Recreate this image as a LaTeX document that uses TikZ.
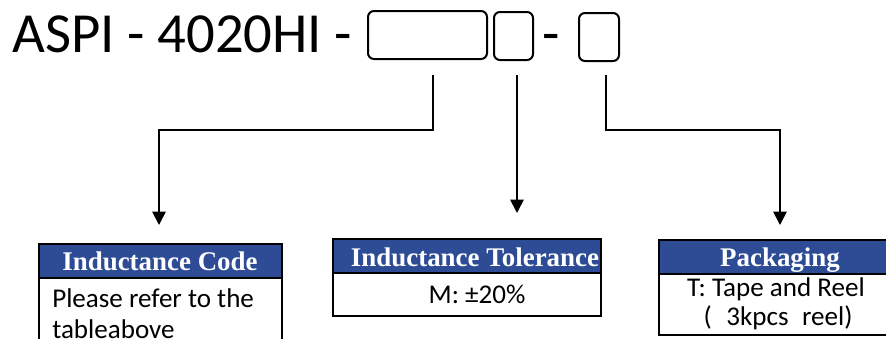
\documentclass[tikz,border=0pt]{standalone}
\usepackage{fontspec}
\setmainfont{Carlito}
\newfontfamily\hdrfont{Liberation Serif}
\usetikzlibrary{arrows.meta}
\definecolor{hdrblue}{RGB}{46,76,150}
\begin{document}
\begin{tikzpicture}[x=0.75pt,y=-0.75pt,
  slot/.style={draw,line width=1.5pt,rounded corners=4.5pt,inner sep=0,anchor=center},
  conn/.style={line width=1.3pt,-{Triangle[width=10pt,length=10pt]}},
  hdr/.style={draw,line width=1.5pt,fill=hdrblue,inner sep=0,anchor=north west},
  bodybox/.style={draw,line width=1.5pt,fill=white,inner sep=0,anchor=north west},
  hdrtext/.style={text=white,font=\hdrfont\bfseries\fontsize{20.2pt}{23pt}\selectfont,inner sep=0,anchor=base},
  bodytext/.style={font=\fontsize{20.3pt}{24pt}\selectfont,inner sep=0,anchor=base},
  titletext/.style={font=\fontsize{42.5pt}{50pt}\selectfont,inner sep=0,anchor=base west},
]
\useasboundingbox (0,0) rectangle (886,339);
\clip (0,0) rectangle (886,339);

% title line
\node[titletext] (title) at (12,52) {ASPI - 4020HI -};
\node[slot,minimum width=119*0.75pt,minimum height=48*0.75pt] (b1) at (427.5,35) {};
\node[slot,minimum width=39*0.75pt,minimum height=48*0.75pt] (b2) at (513.5,36) {};
\node[titletext,anchor=base] (dash) at (551,52) {-};
\node[slot,minimum width=40*0.75pt,minimum height=48*0.75pt] (b3) at (599,37) {};

% connector ends
\coordinate (s1) at (433,75);
\coordinate (s2) at (517,75);
\coordinate (s3) at (606,75);
\coordinate (t1) at (159,225);
\coordinate (t2) at (517,213);
\coordinate (t3) at (780,225);

\draw[conn] (s1) -- ++(0,55) -| (t1);
\draw[conn] (s2) -- (t2);
\draw[conn] (s3) -- ++(0,55) -| (t3);

% box 1
\node[bodybox,minimum width=243*0.75pt,minimum height=90*0.75pt] (d1) at (38,277) {};
\node[hdr,minimum width=243*0.75pt,minimum height=34*0.75pt] (h1) at (38,243) {};
\node[hdrtext] (h1t) at (160,270) {Inductance Code};
\node[bodytext,anchor=base west] (d1a) at (52,307) {Please refer to the};
\node[bodytext,anchor=base west] (d1b) at (52,338) {tableabove};

% box 2
\node[bodybox,minimum width=268*0.75pt,minimum height=43*0.75pt] (d2) at (332,272) {};
\node[hdr,minimum width=268*0.75pt,minimum height=34*0.75pt] (h2) at (332,238) {};
\node[hdrtext] (h2t) at (475,266) {Inductance Tolerance};
\node[bodytext] (d2a) at (477,303) {M: ±20\%};

% box 3
\node[bodybox,minimum width=244*0.75pt,minimum height=61*0.75pt] (d3) at (658,273) {};
\node[hdr,minimum width=244*0.75pt,minimum height=34*0.75pt] (h3) at (658,239) {};
\node[hdrtext] (h3t) at (780,266) {Packaging};
\node[bodytext] (d3a) at (776,296) {T: Tape and Reel};
\node[bodytext] (d3b) at (778,325) {(\hspace{11pt}3kpcs\hspace{10pt}reel)};
\end{tikzpicture}
\end{document}
